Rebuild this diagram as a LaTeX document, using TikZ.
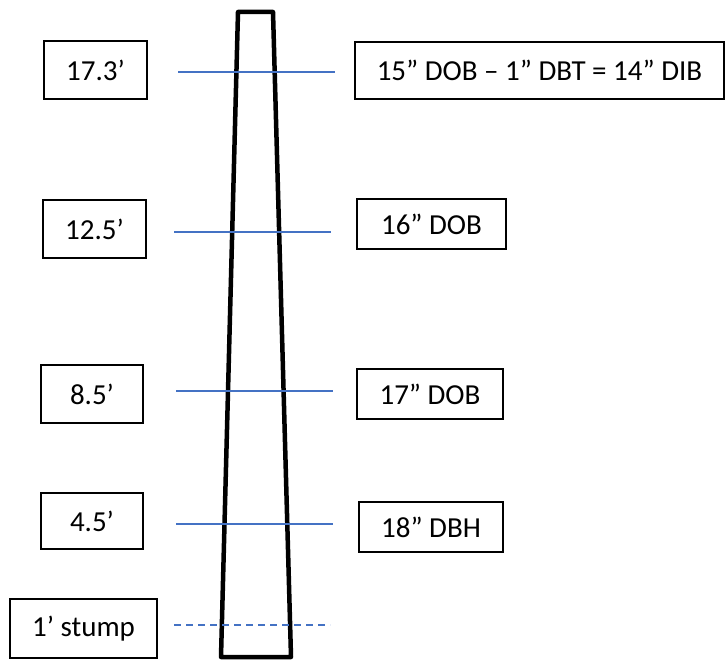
\documentclass[tikz,border=0pt]{standalone}
\usepackage{fontspec}
\setmainfont{Carlito}
\usepackage{tikz}
\usetikzlibrary{positioning}
\definecolor{cutblue}{HTML}{4472C4}
\definecolor{boxblack}{HTML}{000000}

\tikzset{
  tagbox/.style={draw=boxblack, line width=1.8pt, inner sep=0pt, text=black,
    font=\fontsize{29}{34}\selectfont},
  cutline/.style={draw=cutblue, line width=2pt},
}

\begin{document}
\begin{tikzpicture}[x=1pt,y=-1pt]
\useasboundingbox (0,0) rectangle (727,660);

% trunk
\draw[line width=4.5pt, line join=round] (221,657) -- (238,12) -- (273,12) -- (291,657) -- cycle;

% heights on the left
\node[tagbox, minimum width=103, minimum height=58] (h173) at (95.5,70) {17.3’};
\node[tagbox, minimum width=103, minimum height=58] (h125) at (94.5,229) {12.5’};
\node[tagbox, minimum width=102, minimum height=58] (h85) at (92,394) {8.5’};
\node[tagbox, minimum width=102, minimum height=56] (h45) at (92,521) {4.5’};
\node[tagbox, minimum width=147, minimum height=59] (stump) at (83.5,628.5) {1’ stump};

% diameters on the right
\node[tagbox, minimum width=369, minimum height=57] (dib) at (539.5,70.5) {15” DOB – 1” DBT = 14” DIB};
\node[tagbox, minimum width=149, minimum height=50] (dob16) at (431.5,224) {16” DOB};
\node[tagbox, minimum width=146, minimum height=50] (dob17) at (430,394) {17” DOB};
\node[tagbox, minimum width=144, minimum height=50] (dbh18) at (431,527) {18” DBH};

% measuring points
\coordinate (c173a) at (178,72);  \coordinate (c173b) at (335,72);
\coordinate (c125a) at (174,232); \coordinate (c125b) at (331,232);
\coordinate (c85a) at (176,391);  \coordinate (c85b) at (333,391);
\coordinate (c45a) at (176,524);  \coordinate (c45b) at (333,524);
\coordinate (c1a) at (174,625);   \coordinate (c1b) at (330,625);

\draw[cutline] (c173a) -- (c173b);
\draw[cutline] (c125a) -- (c125b);
\draw[cutline] (c85a) -- (c85b);
\draw[cutline] (c45a) -- (c45b);
\draw[cutline, dash pattern=on 7pt off 5pt] (c1a) -- (c1b);
\end{tikzpicture}
\end{document}
